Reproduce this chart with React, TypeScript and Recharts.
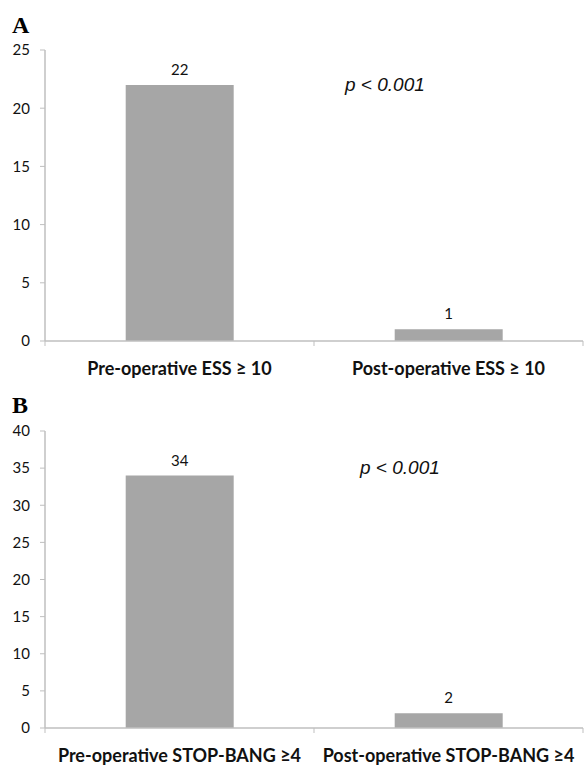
import { BarChart, Bar, XAxis, YAxis, LabelList } from "recharts"

// Panel A: Epworth Sleepiness Scale
const essCategories = ["Pre-operative ESS \u2265 10", "Post-operative ESS \u2265 10"]
const essValues = [22, 1]
const essTicks = [0, 5, 10, 15, 20, 25]

// Panel B: STOP-BANG
const stopBangCategories = ["Pre-operative STOP-BANG \u22654", "Post-operative STOP-BANG \u22654"]
const stopBangValues = [34, 2]
const stopBangTicks = [0, 5, 10, 15, 20, 25, 30, 35, 40]

const pValueText = "p < 0.001"

const FONT = "Lato, 'Open Sans', sans-serif"
const AXIS_GRAY = "#bfbfbf"
const BAR_GRAY = "#a6a6a6"

function CategoryTick(props: any) {
  const { x, y, payload, index, visibleTicksCount } = props
  const half = payload.offset ?? 0
  const isLast = index === visibleTicksCount - 1
  return (
    <g>
      <line x1={x - half} x2={x - half} y1={y} y2={y + 5} stroke={AXIS_GRAY} />
      {isLast && <line x1={x + half} x2={x + half} y1={y} y2={y + 5} stroke={AXIS_GRAY} />}
      <text
        x={x}
        y={y + 27}
        textAnchor="middle"
        dominantBaseline="central"
        fontFamily={FONT}
        fontWeight="bold"
        fontSize={18}
        fill="#111"
      >
        {payload.value}
      </text>
    </g>
  )
}

interface PanelProps {
  categories: string[]
  values: number[]
  ticks: number[]
  height: number
  top: number
  xAxisHeight: number
}

function Panel({ categories, values, ticks, height, top, xAxisHeight }: PanelProps) {
  const data = categories.map((name, i) => ({ name, value: values[i] }))
  const max = ticks[ticks.length - 1]
  return (
    <BarChart
      width={584}
      height={height}
      data={data}
      margin={{ top, right: 1, left: 0, bottom: 0 }}
      barCategoryGap="30%"
    >
      <XAxis
        dataKey="name"
        height={xAxisHeight}
        axisLine={{ stroke: AXIS_GRAY, strokeWidth: 1.5 }}
        tickLine={false}
        tickSize={0}
        tickMargin={0}
        interval={0}
        tick={<CategoryTick />}
      />
      <YAxis
        width={45}
        domain={[0, max]}
        ticks={ticks}
        interval={0}
        axisLine={{ stroke: AXIS_GRAY, strokeWidth: 1.5 }}
        tickLine={{ stroke: AXIS_GRAY }}
        tickSize={5}
        tickMargin={10}
        tick={{ fontFamily: FONT, fontSize: 15, fill: "#111" }}
      />
      <Bar dataKey="value" fill={BAR_GRAY} isAnimationActive={false}>
        <LabelList
          dataKey="value"
          position="top"
          offset={10}
          style={{ fontFamily: FONT, fontSize: 15, fill: "#111" }}
        />
      </Bar>
    </BarChart>
  )
}

const panelLetter: React.CSSProperties = {
  position: "absolute",
  left: 12,
  fontFamily: "'Liberation Serif', 'DejaVu Serif', serif",
  fontWeight: "bold",
  fontSize: 24,
  lineHeight: "24px",
  color: "#000",
}

const pStyle: React.CSSProperties = {
  position: "absolute",
  fontFamily: "'Liberation Sans', Arial, sans-serif",
  fontStyle: "italic",
  fontSize: 19,
  lineHeight: "20px",
  color: "#111",
}

export default function App() {
  return (
    <div style={{ position: "absolute", left: 0, top: 0, width: 584, height: 765, background: "#fff" }}>
      <div style={{ ...panelLetter, top: 13 }}>A</div>
      <div style={{ position: "absolute", left: 0, top: 0 }}>
        <Panel categories={essCategories} values={essValues} ticks={essTicks} height={385} top={50} xAxisHeight={44} />
      </div>
      <div style={{ ...pStyle, left: 345, top: 75 }}>{pValueText}</div>

      <div style={{ ...panelLetter, top: 393 }}>B</div>
      <div style={{ position: "absolute", left: 0, top: 385 }}>
        <Panel
          categories={stopBangCategories}
          values={stopBangValues}
          ticks={stopBangTicks}
          height={380}
          top={46}
          xAxisHeight={37}
        />
      </div>
      <div style={{ ...pStyle, left: 360, top: 458 }}>{pValueText}</div>
    </div>
  )
}
